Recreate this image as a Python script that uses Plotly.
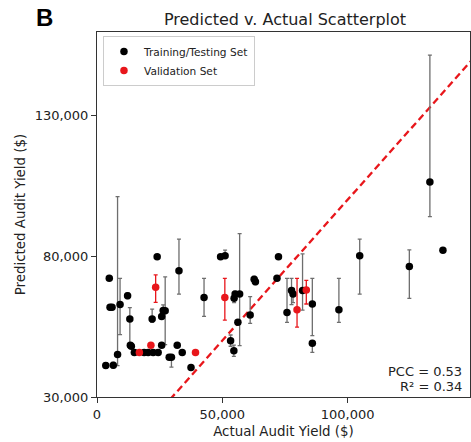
import plotly.graph_objects as go

# Training/Testing set (actual, predicted, error up, error down) in $
train_actual = [3500, 6500, 4900, 5200, 6000, 8200, 9200, 12200, 13100, 13300, 13700, 14900,
                18800, 20400, 22400, 24400, 22000, 24000, 25800, 25800, 26400, 27200, 28800,
                29700, 32000, 32700, 34000, 37500, 42700, 49300, 51100, 53300, 54600, 54700,
                55100, 56900, 56200, 61100, 62700, 63200, 71800, 72400, 75800, 77600, 78200,
                82000, 85900, 85900, 96500, 104800, 124600, 132800, 138000]
train_pred = [41200, 41300, 72100, 61800, 61800, 45100, 62800, 65900, 57700, 48400, 48000, 45800,
              45800, 45800, 45800, 45800, 57700, 79800, 48400, 58600, 60700, 60600, 44100,
              44100, 48400, 74800, 45800, 40500, 65300, 79800, 80100, 50000, 46400, 65000,
              66500, 66500, 56500, 59100, 71800, 70900, 72100, 79800, 60000, 67800, 66500,
              67800, 63000, 49100, 61000, 80100, 76300, 106300, 82100]
train_err_up = [1000, 1000, 0, 800, 800, 56000, 9300, 1000, 4000, 0, 0, 0,
                0, 0, 0, 0, 3500, 0, 0, 0, 2000, 12000, 0,
                0, 0, 11200, 0, 0, 6800, 0, 2000, 2000, 2000, 1500,
                1000, 21500, 0, 6500, 1000, 1000, 0, 0, 12100, 4300, 2000,
                13000, 9100, 0, 11100, 5900, 5900, 45000, 0]
train_err_down = [1000, 1000, 0, 800, 800, 4000, 10700, 1000, 9000, 0, 0, 0,
                  0, 0, 0, 0, 1200, 0, 0, 0, 1000, 12000, 0,
                  3500, 0, 8300, 0, 0, 6700, 0, 0, 2000, 2000, 1500,
                  1000, 18300, 0, 3000, 1000, 1000, 0, 0, 3500, 5000, 3000,
                  7000, 11200, 3300, 4500, 13600, 11300, 12300, 0]

# Validation set
val_actual = [16900, 21500, 23400, 39300, 51000, 79800, 83500]
val_pred = [45800, 48400, 68900, 45800, 65300, 61000, 68000]
val_err_up = [0, 0, 4400, 0, 6800, 11100, 3400]
val_err_down = [0, 0, 5300, 0, 8000, 6200, 5000]

# identity line
line_vals = [0, 160000]

x_ticks = [0, 50000, 100000]
y_ticks = [30000, 80000, 130000]

FONT = "DejaVu Sans"

fig = go.Figure()
fig.add_trace(go.Scatter(
    x=line_vals, y=line_vals, mode="lines", showlegend=False,
    line=dict(color="#e8161b", width=2.3, dash="7px,4px"), hoverinfo="skip"))
fig.add_trace(go.Scatter(
    x=train_actual, y=train_pred, mode="markers", name="Training/Testing Set",
    marker=dict(color="black", size=7.5),
    error_y=dict(type="data", symmetric=False, array=train_err_up, arrayminus=train_err_down,
                 color="#6e6e6e", thickness=1.3, width=2)))
fig.add_trace(go.Scatter(
    x=val_actual, y=val_pred, mode="markers", name="Validation Set",
    marker=dict(color="#e8161b", size=7.5),
    error_y=dict(type="data", symmetric=False, array=val_err_up, arrayminus=val_err_down,
                 color="#e8161b", thickness=1.3, width=2)))

axis_common = dict(showline=True, linecolor="#333333", linewidth=1, mirror=True,
                   showgrid=False, zeroline=False, ticks="outside", ticklen=5,
                   tickcolor="#333333", tickformat=",d",
                   tickfont=dict(family=FONT, size=13, color="#222222"))

fig.update_xaxes(range=[0, 148800], tickvals=x_ticks,
                 title=dict(text="Actual Audit Yield ($)", font=dict(family=FONT, size=13.4, color="#222222"), standoff=6),
                 **axis_common)
fig.update_yaxes(range=[30000, 159500], tickvals=y_ticks,
                 title=dict(text="Predicted Audit Yield ($)", font=dict(family=FONT, size=13.4, color="#222222"), standoff=5),
                 **axis_common)

fig.update_layout(
    width=471, height=442,
    margin=dict(l=97, r=1, t=32, b=45),
    plot_bgcolor="white", paper_bgcolor="white",
    font=dict(family=FONT, color="#222222"),
    title=dict(text="Predicted v. Actual Scatterplot", x=285 / 471, xanchor="center",
               y=1 - 19 / 442, yanchor="middle", font=dict(family=FONT, size=16, color="#222222")),
    legend=dict(x=0.016, y=0.989, xanchor="left", yanchor="top",
                bgcolor="white", bordercolor="#cccccc", borderwidth=1,
                font=dict(family=FONT, size=10.6, color="#222222"), itemwidth=30,
                tracegroupgap=0),
    showlegend=True,
)

fig.add_annotation(text="<b>B</b>", xref="paper", yref="paper", x=-(97 - 45) / 373, y=1 + 14 / 365,
                   xanchor="center", yanchor="middle", showarrow=False,
                   font=dict(family="Liberation Sans", size=24, color="black"))
fig.add_annotation(text="PCC = 0.53", xref="paper", yref="paper", x=1, xshift=-6, y=(397 - 371) / 365,
                   xanchor="right", yanchor="middle", showarrow=False,
                   font=dict(family=FONT, size=13, color="#222222"))
fig.add_annotation(text="R² = 0.34", xref="paper", yref="paper", x=1, xshift=-6, y=(397 - 386) / 365,
                   xanchor="right", yanchor="middle", showarrow=False,
                   font=dict(family=FONT, size=13, color="#222222"))

fig.write_html("out.html", config={"displayModeBar": False},
               post_script="document.body.style.margin='0';document.body.style.overflow='hidden';")
